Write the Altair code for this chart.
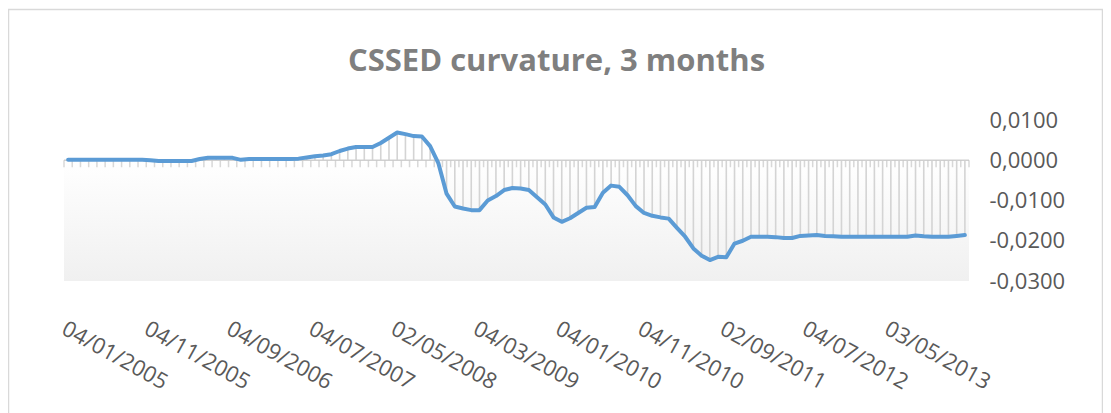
import json
import altair as alt
import pandas as pd

# Monthly observations, Jan 2005 .. Feb 2014 (110 points)
values = [
    0.0001, 0.0001, 0.0001, 0.0001, 0.0001, 0.0001, 0.0001, 0.0001, 0.0001, 0.0001,
    0.0000, -0.0002, -0.0002, -0.0002, -0.0002, -0.0002, 0.0003, 0.0006, 0.0006, 0.0006,
    0.0006, 0.0001, 0.0003, 0.0003, 0.0003, 0.0003, 0.0003, 0.0003, 0.0004, 0.0007,
    0.0010, 0.0012, 0.0015, 0.0023, 0.0029, 0.0033, 0.0033, 0.0033, 0.0043, 0.0056,
    0.0069, 0.0065, 0.0060, 0.0059, 0.0035, -0.0007, -0.0083, -0.0115, -0.0120, -0.0124,
    -0.0124, -0.0100, -0.0089, -0.0074, -0.0069, -0.0070, -0.0074, -0.0092, -0.0110, -0.0142,
    -0.0153, -0.0144, -0.0131, -0.0118, -0.0116, -0.0081, -0.0063, -0.0066, -0.0087, -0.0114,
    -0.0131, -0.0138, -0.0142, -0.0145, -0.0168, -0.0190, -0.0219, -0.0237, -0.0248, -0.0240,
    -0.0241, -0.0207, -0.0200, -0.0190, -0.0190, -0.0190, -0.0191, -0.0193, -0.0193, -0.0188,
    -0.0187, -0.0186, -0.0188, -0.0189, -0.0190, -0.0190, -0.0190, -0.0190, -0.0190, -0.0190,
    -0.0190, -0.0190, -0.0190, -0.0187, -0.0189, -0.0190, -0.0190, -0.0190, -0.0188, -0.0186,
]
index = list(range(len(values)))

tick_index = [0, 10, 20, 30, 40, 50, 60, 70, 80, 90, 100]
tick_labels = [
    "04/01/2005", "04/11/2005", "04/09/2006", "04/07/2007", "02/05/2008",
    "04/03/2009", "04/01/2010", "04/11/2010", "02/09/2011", "04/07/2012", "03/05/2013",
]
y_ticks = [-0.03, -0.02, -0.01, 0.0, 0.01]

n = len(values)
W, H = 905, 161
FONT = "Open Sans"

df = pd.DataFrame({"i": index, "v": values})
bounds = pd.DataFrame({"b": [k - 0.5 for k in range(n + 1)]})
one = pd.DataFrame({"a": [0]})

xscale = alt.Scale(domain=[-0.5, n - 0.5], nice=False, zero=False)
yscale = alt.Scale(domain=[-0.03, 0.01], nice=False, zero=False)

label_map = json.dumps(dict(zip([str(t) for t in tick_index], tick_labels)))
x_axis = alt.Axis(
    values=tick_index,
    labelExpr=f"{label_map}[format(datum.value, 'd')]",
    labelAngle=29, labelAlign="left", labelBaseline="top",
    labelFont=FONT, labelFontSize=22, labelColor="#595959",
    labelPadding=37, labelOverlap=False, labelFlush=False, labelBound=False,
    domain=False, ticks=False, grid=False, title=None,
)
y_axis = alt.Axis(
    values=y_ticks, orient="right",
    labelExpr="replace(replace(format(datum.value, '.4f'), '.', ','), '\u2212', '-')",
    labelFont=FONT, labelFontSize=22, labelColor="#595959", labelAlign="left",
    labelPadding=20, domain=False, ticks=False, grid=False, title=None,
)

grad = alt.Gradient(
    gradient="linear",
    stops=[alt.GradientStop(color="#ffffff", offset=0), alt.GradientStop(color="#f0f0f0", offset=1)],
    x1=0, x2=0, y1=0, y2=1,
)

bg = alt.Chart(one).mark_rect(color=grad).encode(
    x=alt.value(0), x2=alt.value(W),
    y=alt.Y(datum=0, scale=yscale), y2=alt.Y2(datum=-0.03),
)

drops = alt.Chart(df).mark_rule(color="#d4d4d4", strokeWidth=1.6).encode(
    x=alt.X("i:Q", scale=xscale, axis=x_axis),
    y=alt.Y("v:Q", scale=yscale, axis=y_axis),
    y2=alt.Y2(datum=0),
)

zero_line = alt.Chart(one).mark_rule(color="#d0d0d0", strokeWidth=1.5).encode(
    x=alt.value(0), x2=alt.value(W), y=alt.Y(datum=0, scale=yscale),
)

ticks = alt.Chart(bounds).mark_tick(
    orient="vertical", size=7, thickness=1.5, color="#c8c8c8", yOffset=3.5
).encode(
    x=alt.X("b:Q", scale=xscale), y=alt.Y(datum=0, scale=yscale),
)

line = alt.Chart(df).mark_line(
    color="#5b9bd5", strokeWidth=4, strokeCap="round", strokeJoin="round"
).encode(
    x=alt.X("i:Q", scale=xscale), y=alt.Y("v:Q", scale=yscale),
)

border = alt.Chart(one).mark_rect(fill=None, stroke="#d9d9d9", strokeWidth=1.5).encode(
    x=alt.value(-55.5), x2=alt.value(1038.5), y=alt.value(-110.5), y2=alt.value(400),
)

chart = alt.layer(bg, drops, zero_line, ticks, line, border).properties(
    width=W, height=H,
    background="white",
    padding={"left": 56, "top": 112, "right": 134, "bottom": 132},
    autosize=alt.AutoSizeParams(type="none"),
    title=alt.TitleParams(
        "CSSED curvature, 3 months", font=FONT, fontSize=31, fontWeight="bold",
        color="#7f7f7f", anchor="middle", dx=40, offset=-93, baseline="alphabetic",
    ),
).configure_view(strokeWidth=0, stroke="transparent")

chart.save("out.html", embed_options={"renderer": "svg", "actions": False})
